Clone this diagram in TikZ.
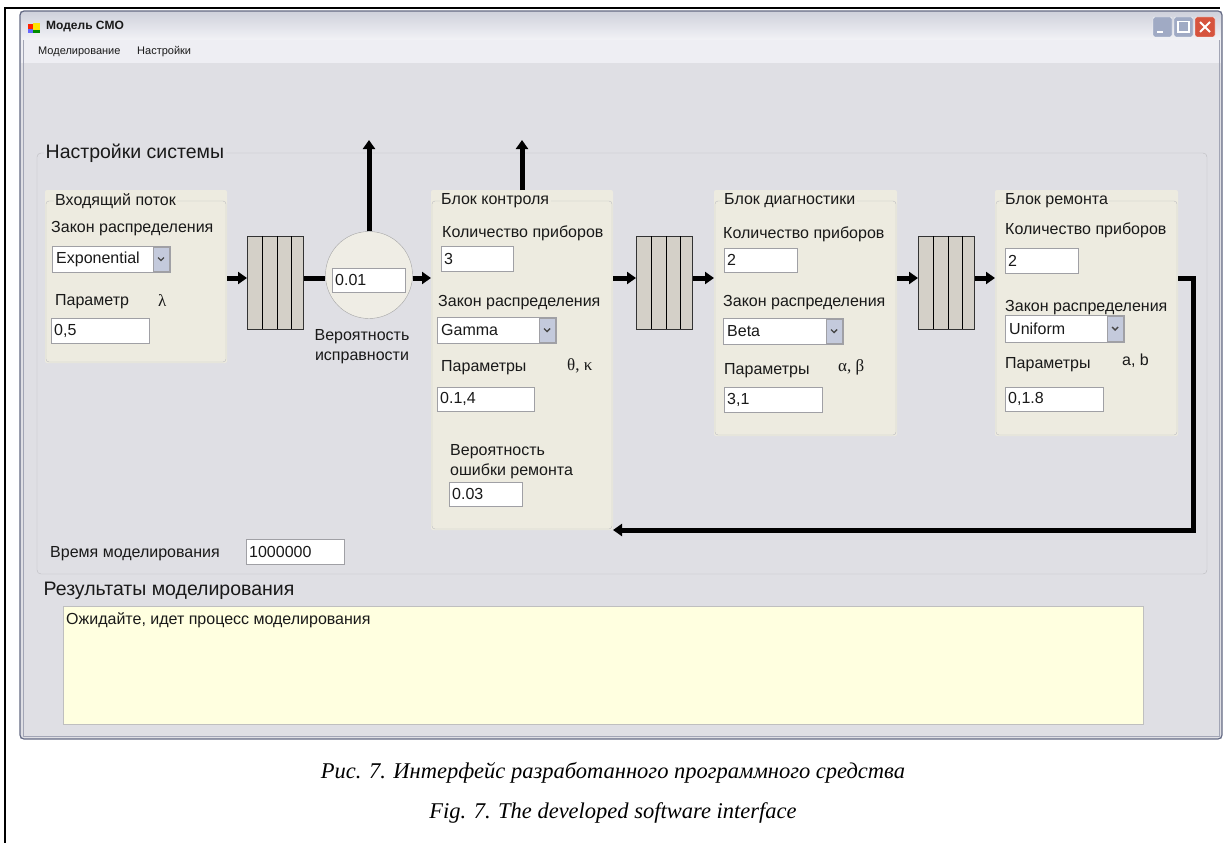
\documentclass[tikz,border=0pt]{standalone}
\usepackage{fontspec}
\setmainfont{Liberation Sans}
\newfontfamily\serifgr{Liberation Serif}
\usetikzlibrary{arrows.meta}
\definecolor{winbg}{RGB}{223,223,228}
\definecolor{menubg}{RGB}{238,238,243}
\definecolor{panelc}{RGB}{237,235,224}
\definecolor{framec}{RGB}{188,188,192}
\definecolor{queuec}{RGB}{212,208,200}
\definecolor{circc}{RGB}{239,237,229}
\definecolor{resc}{RGB}{255,255,224}
\definecolor{tbborder}{RGB}{160,160,165}
\definecolor{btnc}{RGB}{196,202,220}
\definecolor{txtc}{RGB}{25,25,25}
\definecolor{winborder}{RGB}{100,106,132}
\definecolor{tbtop}{RGB}{208,210,220}
\definecolor{tbbot}{RGB}{242,242,246}
\definecolor{sysbtn}{RGB}{160,170,196}
\definecolor{closebtn}{RGB}{214,84,62}
\newcommand\uitb[6]{%
  \draw[tbox] (#2,#3) rectangle (#4,#5);
  \node[ui] (#1) at ({#2+3},{(#3+#5)/2}) {#6};}
\newcommand\uicombo[6]{%
  \draw[tbox] (#2,#3) rectangle (#4,#5);
  \node[ui] (#1) at ({#2+4},{(#3+#5)/2}) {#6};
  \draw[draw=tbborder,fill=btnc] ({#4-17},{#3+1}) rectangle ({#4-1},{#5-1});
  \draw[line width=1.4pt,txtc!80] ({#4-12},{(#3+#5)/2-1.5}) -- ({#4-9},{(#3+#5)/2+1.5}) -- ({#4-6},{(#3+#5)/2-1.5});}
\newcommand\uipanel[6]{%
  \fill[panelc,rounded corners=2pt] (#2,#3) rectangle (#4,#5);
  \draw[framec,rounded corners=3pt] ({#2+1},{#3+11}) rectangle ({#4-1},{#5-1});
  \node[ui,fill=panelc,inner sep=1.5pt] (#1) at ({#2+8.5},{#3+11}) {#6};}
\newcommand\uiqueue[3]{%
  \node[queuebox,anchor=north west] (#1) at (#2,#3) {};
  \draw ({#2+15},#3) -- ({#2+15},{#3+93});
  \draw ({#2+30},#3) -- ({#2+30},{#3+93});
  \draw ({#2+44},#3) -- ({#2+44},{#3+93});}
\begin{document}
\begin{tikzpicture}[x=1pt,y=-1pt,
  ui/.style={font=\fontsize{16}{20}\selectfont,text=txtc,inner sep=0pt,anchor=west},
  big/.style={font=\fontsize{19.5}{23}\selectfont,text=txtc,inner sep=1.5pt,anchor=west},
  tbox/.style={draw=tbborder,fill=white,line width=0.9pt},
  queuebox/.style={draw=black!80,fill=queuec,minimum width=56pt,minimum height=93pt,inner sep=0pt,line width=0.8pt},
  flow/.style={line width=5pt,-{Triangle[length=9pt,width=12pt]}},
  link/.style={line width=5pt},
  captext/.style={font=\serifgr\itshape\fontsize{22.5}{26}\selectfont,inner sep=0pt}]
\useasboundingbox (0,0) rectangle (1226,843);
\fill[white] (0,0) rectangle (1226,843);
% page frame
\draw[line width=2pt] (5,843) -- (5,8) -- (1220,8);
% window
\fill[winbg] (20,11) rectangle (1222,739);
\shade[top color=tbtop,bottom color=tbbot] (21,12) rectangle (1221,40);
\fill[menubg] (21,40) rectangle (1221,63);
\draw[winborder,line width=1.2pt,rounded corners=4pt] (1222,739) -- (1222,11) -- (20,11) -- (20,739) -- cycle;
\draw[winborder!60,line width=0.6pt] (23,40) -- (23,736) -- (1219,736) -- (1219,40);
% title icon
\fill[red!75!orange] (28,24) rectangle (33,29);
\fill[blue!60] (28,29) rectangle (33,33);
\fill[yellow!85!orange] (33,23) rectangle (40,30);
\fill[green!55!black] (33,30) rectangle (40,33);
\node[font=\bfseries\fontsize{12}{14}\selectfont,text=txtc,anchor=west,inner sep=0pt] (title) at (46,27) {Модель СМО};
% window buttons
\fill[sysbtn,rounded corners=2pt,draw=white] (1153,17) rectangle (1172,37);
\fill[white] (1157,31) rectangle (1163,33);
\fill[sysbtn,rounded corners=2pt,draw=white] (1174,17) rectangle (1193,37);
\draw[white,line width=1.2pt] (1178,21.5) rectangle (1189,32);
\fill[closebtn,rounded corners=2pt,draw=white] (1195,17) rectangle (1215,37);
\draw[white,line width=2pt] (1200,22) -- (1210,32) (1210,22) -- (1200,32);
% menu
\node[font=\fontsize{11}{13}\selectfont,text=txtc,anchor=west,inner sep=0pt] (m1) at (38,52) {Моделирование};
\node[font=\fontsize{11}{13}\selectfont,text=txtc,anchor=west,inner sep=0pt] (m2) at (137,52) {Настройки};
% system settings group
\draw[framec,rounded corners=4pt] (37,153) rectangle (1207,574);
\node[big,fill=winbg] (sys) at (44,153) {Настройки системы};
% group 1
\uipanel{g1t}{45}{190}{227}{363}{Входящий поток}
\coordinate (g1) at (227,278);
\node[ui] (l11) at (51,229) {Закон распределения};
\uicombo{c1}{52}{246}{170}{272}{Exponential}
\node[ui] (l12) at (55,302) {Параметр};
\node[ui,font=\serifgr\fontsize{17}{20}\selectfont] (l13) at (158,301) {λ};
\uitb{t1}{51}{318}{149}{343}{0,5}
% queue 1 and circle
\uiqueue{q1}{247}{236}
\node[circle,draw=black!35,fill=circc,minimum size=87pt,inner sep=0pt] (circ) at (369,275) {};
\uitb{t01}{332}{268}{405}{292}{0.01}
\node[ui,anchor=north,align=center,font=\fontsize{16}{20}\selectfont] (l14) at (362,329) {Вероятность\\исправности};
% group 2
\uipanel{g2t}{431}{190}{613}{530}{Блок контроля}
\coordinate (g2w) at (431,278);
\coordinate (g2e) at (613,278);
\node[ui] (l21) at (442,233) {Количество приборов};
\uitb{t21}{441}{246}{513}{271}{3}
\node[ui] (l22) at (438,303) {Закон распределения};
\uicombo{c2}{437}{317}{556}{343}{Gamma}
\node[ui] (l23) at (441,368) {Параметры};
\node[ui,font=\serifgr\fontsize{17}{20}\selectfont] (l24) at (567,366) {θ, κ};
\uitb{t22}{437}{387}{534}{411}{0.1,4}
\node[ui,anchor=north west,align=left] (l25) at (450,444) {Вероятность\\ошибки ремонта};
\uitb{t23}{449}{482}{522}{506}{0.03}
% queue 2
\uiqueue{q2}{636}{236}
% group 3
\uipanel{g3t}{714}{190}{897}{436}{Блок диагностики}
\coordinate (g3w) at (714,278);
\coordinate (g3e) at (897,278);
\node[ui] (l31) at (723,234) {Количество приборов};
\uitb{t31}{724}{248}{797}{272}{2}
\node[ui] (l32) at (723,303) {Закон распределения};
\uicombo{c3}{723}{318}{843}{344}{Beta}
\node[ui] (l33) at (724,371) {Параметры};
\node[ui,font=\serifgr\fontsize{17}{20}\selectfont] (l34) at (838,367) {α, β};
\uitb{t32}{724}{387}{822}{412}{3,1}
% queue 3
\uiqueue{q3}{918}{236}
% group 4
\uipanel{g4t}{995}{190}{1178}{436}{Блок ремонта}
\coordinate (g4w) at (995,278);
\coordinate (g4e) at (1178,278);
\node[ui] (l41) at (1005,230) {Количество приборов};
\uitb{t41}{1005}{248}{1078}{273}{2}
\node[ui] (l42) at (1005,308) {Закон распределения};
\uicombo{c4}{1005}{315}{1124}{342}{Uniform}
\node[ui] (l43) at (1005,365) {Параметры};
\node[ui] (l44) at (1122,361) {a, b};
\uitb{t42}{1005}{387}{1103}{411}{0,1.8}
% connectors
\coordinate (ay) at (0,278);
\coordinate (up1) at (369,140);
\coordinate (up2) at (522,140);
\coordinate (g2top) at (522,190);
\coordinate (fbtop) at (1193,278);
\coordinate (fbbot) at (1193,530);
\draw[flow] (g1) -- (q1.west |- ay);
\draw[link] (q1.east |- ay) -- (circ.west |- ay);
\draw[flow] (circ.east |- ay) -- (g2w);
\draw[flow] (circ.north) -- (up1);
\draw[flow] (g2top) -- (up2);
\draw[flow] (g2e) -- (q2.west |- ay);
\draw[flow] (q2.east |- ay) -- (g3w);
\draw[flow] (g3e) -- (q3.west |- ay);
\draw[flow] (q3.east |- ay) -- (g4w);
\draw[flow] (g4e) -- (fbtop) -- (fbbot) -- (g2e |- fbbot);
% simulation time
\node[ui] (l51) at (50,554) {Время моделирования};
\uitb{t51}{246}{539}{344}{564}{1000000}
% results
\node[big] (res) at (42,591) {Результаты моделирования};
\draw[fill=resc,draw=black!25,line width=0.9pt] (63,606) rectangle (1143,724);
\node[ui] (rest) at (66,620) {Ожидайте, идет процесс моделирования};
% captions
\node[captext] (cap1) at (613,773) {Рис. 7. Интерфейс разработанного программного средства};
\node[captext] (cap2) at (613,813) {Fig. 7. The developed software interface};
\end{tikzpicture}
\end{document}
